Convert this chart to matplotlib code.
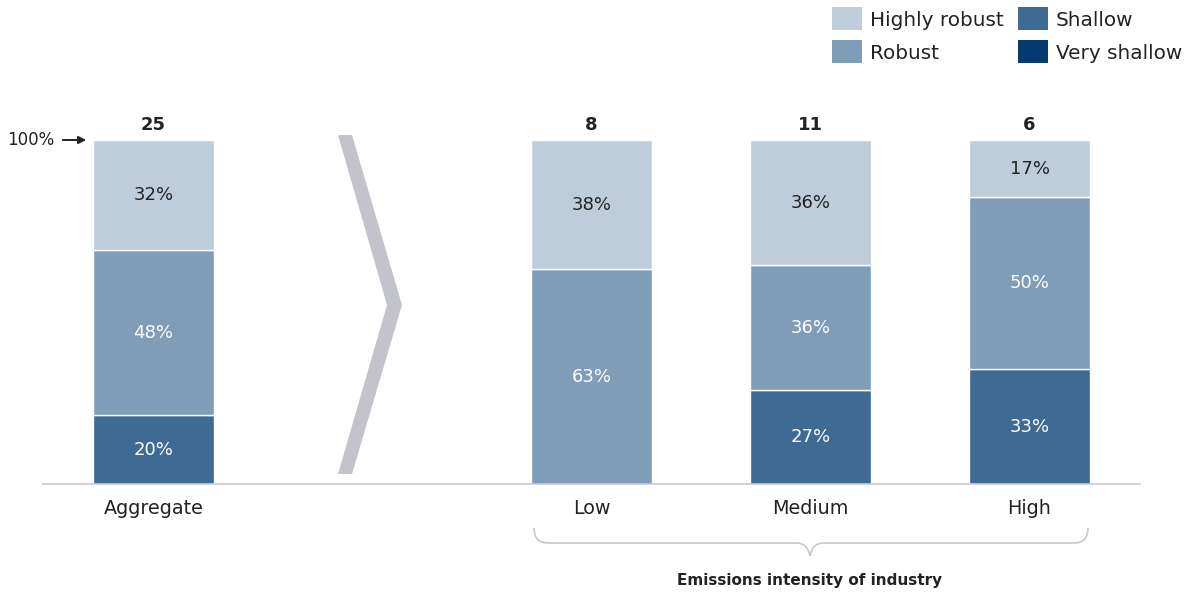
import numpy as np
import matplotlib.pyplot as plt
from matplotlib.patches import Polygon, Rectangle, PathPatch
from matplotlib.path import Path

plt.rcParams['font.family'] = ['DejaVu Sans']

categories = ['Aggregate', 'Low', 'Medium', 'High']
x_pos = [0, 2, 3, 4]

# number of firms in each group
highly_robust = np.array([8, 3, 4, 1])
robust = np.array([12, 5, 4, 3])
shallow = np.array([5, 0, 3, 2])
very_shallow = np.array([0, 0, 0, 0])

series_names = ['Highly robust', 'Robust', 'Shallow', 'Very shallow']
colors = ['#bfcddb', '#7f9db8', '#3e6a94', '#033a70']
text_colors = ['#222222', 'white', 'white', 'white']

totals = highly_robust + robust + shallow + very_shallow
stack = [very_shallow, shallow, robust, highly_robust]
stack_idx = [3, 2, 1, 0]

fig = plt.figure(figsize=(11.9, 5.94), dpi=100)
ax = fig.add_axes([0, 0, 1, 1])

# pixel -> data mapping helpers (x unit = 219 px, y unit = 3.44 px)
def px(x):
    return (x - 153.5) / 219.0

def py(y):
    return (484 - y) / 3.44

ax.set_xlim(px(0), px(1190))
ax.set_ylim(py(594), py(0))
ax.axis('off')

bar_w = 0.55
bottom = np.zeros(len(categories))
for vals, i in zip(stack, stack_idx):
    share = vals / totals * 100
    ax.bar(x_pos, share, bottom=bottom, width=bar_w, color=colors[i],
           edgecolor='white', linewidth=1)
    for xp, s, b in zip(x_pos, share, bottom):
        if s > 0:
            lab = f'{int(np.floor(s + 0.5))}%'
            ax.text(xp, b + s / 2, lab, ha='center', va='center',
                    fontsize=13, color=text_colors[i])
    bottom = bottom + share

for xp, t, c in zip(x_pos, totals, categories):
    ax.text(xp, 100 + 4.5, str(t), ha='center', va='center',
            fontsize=13, fontweight='bold', color='#222222')
    ax.text(xp, py(508), c, ha='center', va='center',
            fontsize=13.8, color='#222222')

# baseline
ax.plot([px(43), px(1140)], [0, 0], color='#c8c8d0', lw=1.2)

# 100% marker
ax.text(px(7), 100, '100%', ha='left', va='center', fontsize=12,
        color='#222222')
ax.annotate('', xy=(px(89), 100), xytext=(px(60), 100),
            arrowprops=dict(arrowstyle='-|>', color='#222222', lw=1.4,
                            mutation_scale=11))

# chevron
chev = [(338, 135), (352, 135), (402, 305), (352, 474), (338, 474), (387, 305)]
ax.add_patch(Polygon([(px(a), py(b)) for a, b in chev], closed=True,
                     facecolor='#c3c3cb', edgecolor='none'))

# brace under the industry groups
verts = [(534, 528), (534, 543), (548, 543),
         (796, 543), (808, 543), (810, 556),
         (812, 543), (824, 543),
         (1074, 543), (1088, 543), (1088, 528)]
codes = [Path.MOVETO, Path.CURVE3, Path.CURVE3,
         Path.LINETO, Path.CURVE3, Path.CURVE3,
         Path.CURVE3, Path.CURVE3,
         Path.LINETO, Path.CURVE3, Path.CURVE3]
brace = Path([(px(a), py(b)) for a, b in verts], codes)
ax.add_patch(PathPatch(brace, facecolor='none', edgecolor='#c8c8d0', lw=1.2))
ax.text(px(810), py(580), 'Emissions intensity of industry', ha='center',
        va='center', fontsize=11, fontweight='bold', color='#222222')

# legend
leg_pos = [(832, 7), (832, 40), (1018, 7), (1018, 40)]
for (lx, ly), name, col in zip(leg_pos, series_names, colors):
    ax.add_patch(Rectangle((px(lx), py(ly + 23)), 30 / 219.0, 23 / 3.44,
                           facecolor=col, edgecolor='none'))
    ax.text(px(lx + 38), py(ly + 13.5), name, ha='left', va='center',
            fontsize=14.4, color='#222222')

fig.savefig('out.png', dpi=100)
